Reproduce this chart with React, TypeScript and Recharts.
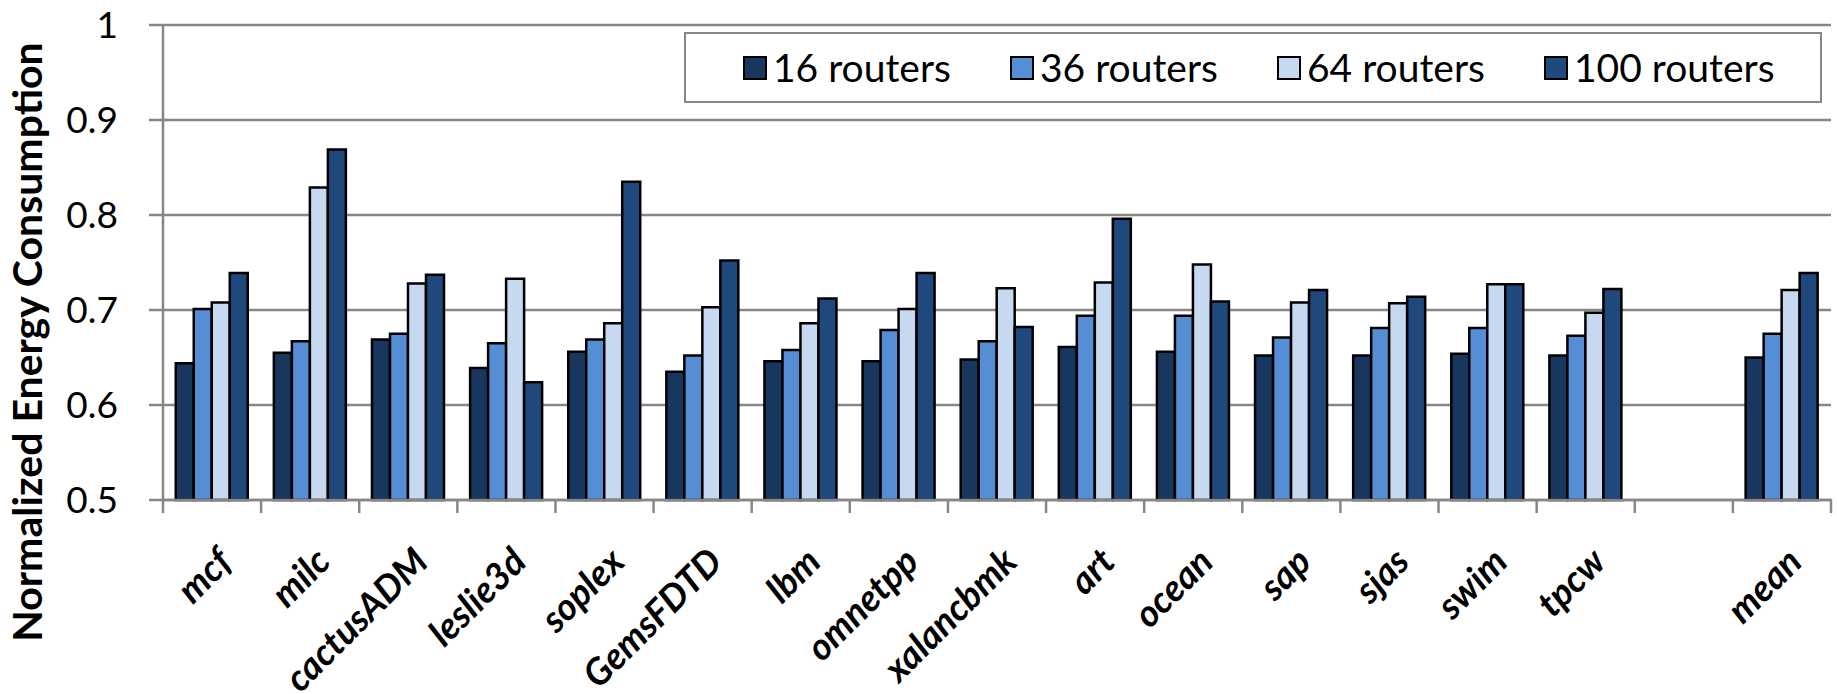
import React from 'react';
import { BarChart, Bar, XAxis, YAxis, CartesianGrid, Legend, Label } from 'recharts';

const CATEGORIES = ['mcf', 'milc', 'cactusADM', 'leslie3d', 'soplex', 'GemsFDTD', 'lbm', 'omnetpp', 'xalancbmk', 'art', 'ocean', 'sap', 'sjas', 'swim', 'tpcw', '', 'mean'];
const SERIES_NAMES = ['16 routers', '36 routers', '64 routers', '100 routers'];
const R16 = [0.644, 0.655, 0.669, 0.639, 0.656, 0.635, 0.646, 0.646, 0.648, 0.661, 0.656, 0.652, 0.652, 0.654, 0.652, null, 0.650];
const R36 = [0.701, 0.667, 0.675, 0.665, 0.669, 0.652, 0.658, 0.679, 0.667, 0.694, 0.694, 0.671, 0.681, 0.681, 0.673, null, 0.675];
const R64 = [0.708, 0.829, 0.728, 0.733, 0.686, 0.703, 0.686, 0.701, 0.723, 0.729, 0.748, 0.708, 0.707, 0.727, 0.697, null, 0.721];
const R100 = [0.739, 0.869, 0.737, 0.624, 0.835, 0.752, 0.712, 0.739, 0.682, 0.796, 0.709, 0.721, 0.714, 0.727, 0.722, null, 0.739];
const Y_TICKS = [0.5, 0.6, 0.7, 0.8, 0.9, 1];
const Y_TITLE = 'Normalized Energy Consumption';
const COLORS = ['#17375E', '#558ED5', '#C6D9F1', '#1F497D'];
const KEYS = ['s16', 's36', 's64', 's100'];

const data = CATEGORIES.map((name, i) => ({
  name,
  s16: R16[i],
  s36: R36[i],
  s64: R64[i],
  s100: R100[i],
}));

const GRID = '#878787';
const FONT = 'Lato, "Open Sans", sans-serif';
const C45 = Math.SQRT1_2;

// Boundary tick marks between categories (derived from the axis geometry)
const renderXTick = (props: any) => {
  const { x, y, width, index } = props;
  const n = CATEGORIES.length;
  const half = Number(width) / n / 2;
  const cx = Number(x);
  const cy = Number(y);
  return (
    <g>
      <line x1={cx - half} x2={cx - half} y1={cy - 1} y2={cy + 13} stroke={GRID} strokeWidth={2.5} />
      {index === n - 1 ? (
        <line x1={cx + half} x2={cx + half} y1={cy - 1} y2={cy + 13} stroke={GRID} strokeWidth={2.5} />
      ) : null}
    </g>
  );
};

// Rotated category names, placed at band centres of the x axis
const XLabels = (props: any) => {
  const vb = props.viewBox || {};
  const n = CATEGORIES.length;
  const band = Number(vb.width) / n;
  const y0 = Number(vb.y);
  return (
    <g>
      {CATEGORIES.map((c, i) => {
        if (!c) return null;
        const ax = Number(vb.x) + (i + 0.5) * band + 22;
        const ay = y0 + 64;
        return (
          <g
            key={c}
            transform={`matrix(${C45},${-C45},${C45},${C45},${ax},${ay})`}
            style={{ transform: `translate(${ax}px, ${ay}px) rotate(-45deg)` }}
          >
            <text
              x={0}
              y={0}
              textAnchor="end"
              fontFamily={FONT}
              fontWeight={700}
              fontStyle="italic"
              fontSize={37}
              fill="#000"
            >
              {c}
            </text>
          </g>
        );
      })}
    </g>
  );
};

const LegendBox = (props: any) => {
  const payload = (props.payload || []).slice();
  payload.sort((a: any, b: any) => SERIES_NAMES.indexOf(a.value) - SERIES_NAMES.indexOf(b.value));
  return (
    <div
      style={{
        boxSizing: 'border-box',
        width: 1138,
        height: 71,
        border: `2.5px solid ${GRID}`,
        background: '#fff',
        display: 'flex',
        alignItems: 'center',
        paddingLeft: 57,
      }}
    >
      {payload.map((e: any) => (
        <div key={e.value} style={{ width: 267, display: 'flex', alignItems: 'center', flex: 'none' }}>
          <span
            style={{
              width: 24,
              height: 24,
              boxSizing: 'border-box',
              border: '2.5px solid #000',
              background: COLORS[SERIES_NAMES.indexOf(e.value)] || e.color,
              marginRight: 6,
              display: 'inline-block',
            }}
          />
          <span style={{ fontFamily: FONT, fontSize: 39, color: '#000', lineHeight: 1 }}>{e.value}</span>
        </div>
      ))}
    </div>
  );
};

const TitleLabel = (props: any) => {
  const cx = 26;
  const cy = 342;
  return (
    <g transform={`translate(${cx},${cy})`}>
      <g transform="rotate(-90)">
        <text
          x={0}
          y={0}
          textAnchor="middle"
          dominantBaseline="central"
          fontFamily={FONT}
          fontWeight={700}
          fontSize={41}
          fill="#000"
        >
          {props.value}
        </text>
      </g>
    </g>
  );
};

export default function App() {
  return (
    <div style={{ width: 1837, height: 694, background: '#fff' }}>
      <style>{'body{margin:0;}'}</style>
      <BarChart
        width={1837}
        height={694}
        data={data}
        margin={{ top: 25, right: 6, bottom: 193, left: 43 }}
        barCategoryGap="13%"
        barGap={0}
      >
        <CartesianGrid vertical={false} stroke={GRID} strokeWidth={2.5} />
        <XAxis
          dataKey="name"
          interval={0}
          tick={renderXTick}
          tickSize={0}
          tickMargin={0}
          tickLine={false}
          axisLine={{ stroke: GRID, strokeWidth: 2.5 }}
          height={1}
        >
          <Label content={<XLabels />} />
        </XAxis>
        <YAxis
          domain={[0.5, 1]}
          ticks={Y_TICKS}
          interval={0}
          width={120}
          tickSize={14}
          tickMargin={31}
          tickLine={{ stroke: GRID, strokeWidth: 2.5 }}
          axisLine={{ stroke: GRID, strokeWidth: 2.5 }}
          tickFormatter={(v: number) => (v === 1 ? '1' : v.toFixed(1))}
          tick={{ fontFamily: FONT, fontSize: 37, fill: '#000' }}
        >
          <Label value={Y_TITLE} content={<TitleLabel />} />
        </YAxis>
        <YAxis
          yAxisId="r"
          orientation="right"
          domain={[0.5, 1]}
          width={0}
          tick={false}
          tickLine={false}
          axisLine={{ stroke: GRID, strokeWidth: 2.5 }}
        />
        <Legend
          layout="horizontal"
          verticalAlign="middle"
          align="center"
          content={<LegendBox />}
          wrapperStyle={{ left: 684, top: 32, width: 1138, height: 71 }}
        />
        {KEYS.map((k, i) => (
          <Bar
            key={k}
            dataKey={k}
            name={SERIES_NAMES[i]}
            fill={COLORS[i]}
            stroke="#000"
            strokeWidth={2.5}
            isAnimationActive={false}
          />
        ))}
      </BarChart>
    </div>
  );
}
